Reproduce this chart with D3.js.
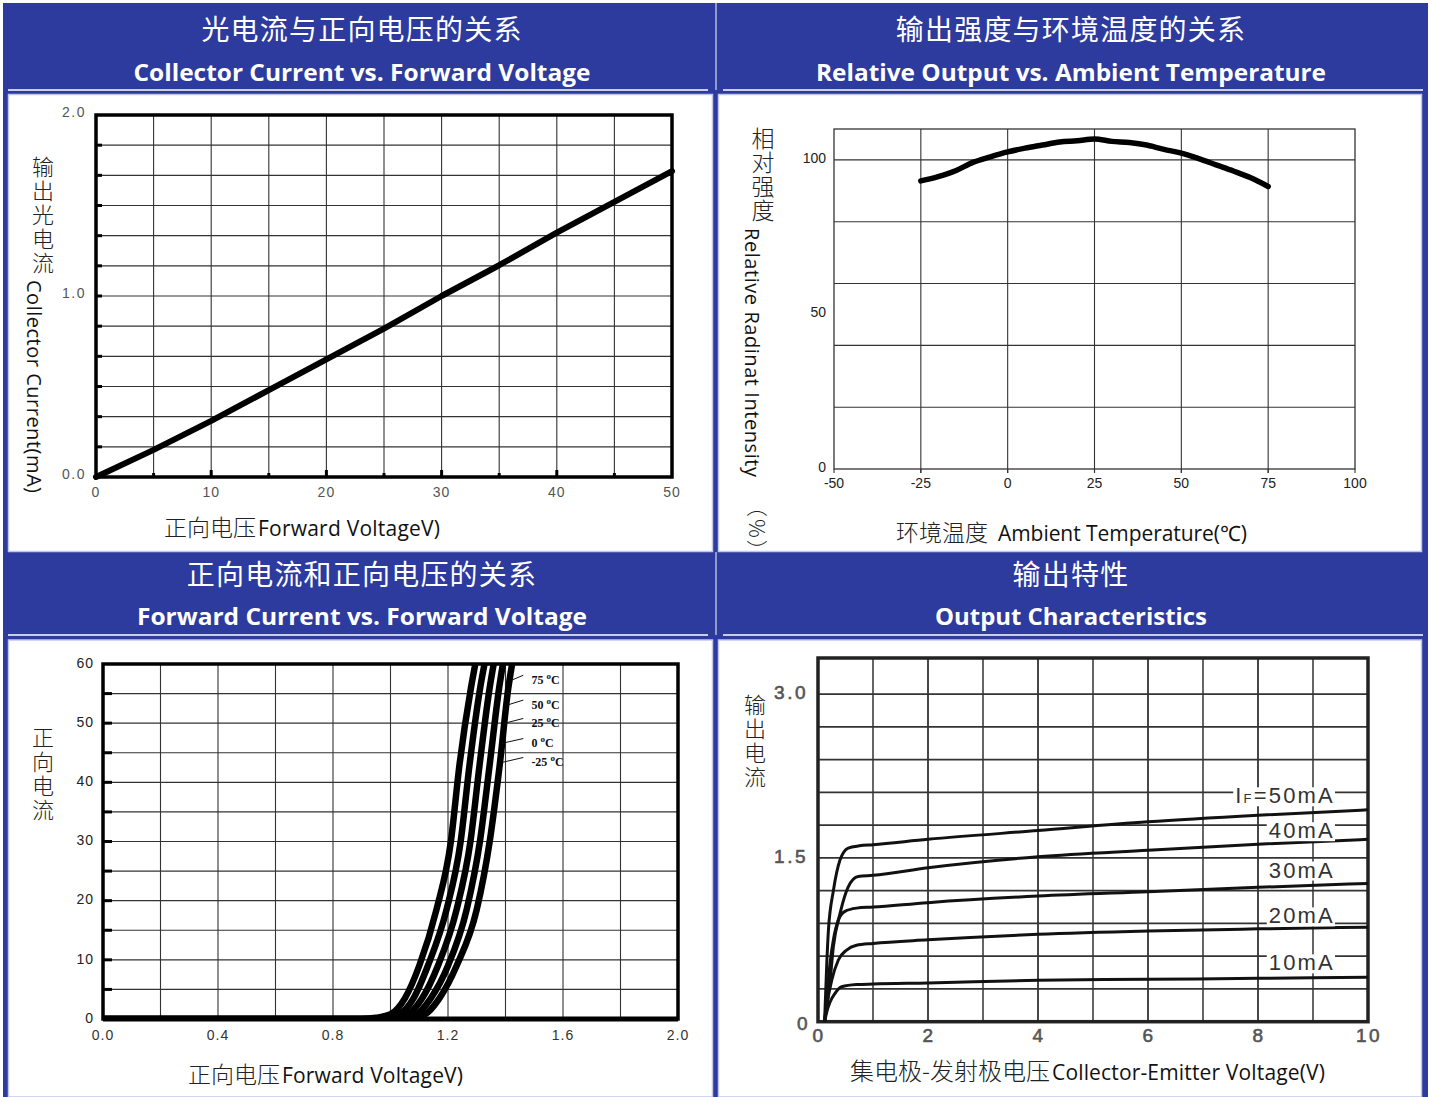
<!DOCTYPE html>
<html><head><meta charset="utf-8">
<script src="https://cdn.jsdelivr.net/npm/d3@7"></script>
<style>body{margin:0;background:#fff}svg{display:block}</style>
</head><body><svg id="c" width="1432" height="1097"></svg>
<script>
// ---------- DATA ----------
// Panel 1: Collector Current vs Forward Voltage
const ccVoltage = [0,5,10,15,20,25,30,35,40,45,50];
const ccCurrent = [0,0.15,0.31,0.48,0.65,0.82,1.0,1.17,1.35,1.52,1.69];
const ccYTicks = [0,1,2];
const ccXTicks = [0,10,20,30,40,50];

// Panel 2: Relative Output vs Ambient Temperature
const roTemp   = [-25,-20,-15,-10,-5,0,5,10,15,20,25,30,35,40,45,50,55,60,65,70,75];
const roOutput = [93.2,94.6,96.5,99.2,101.0,102.6,103.8,104.8,105.8,106.2,106.8,106.0,105.6,104.8,103.4,102.2,100.4,98.4,96.4,94.2,91.4];
const roXTicks = [-50,-25,0,25,50,75,100];
const roYTicks = [0,50,100];

// Panel 3: Forward Current vs Forward Voltage (per temperature)
const fcCurrent = [0,0,0.2,0.8,3.5,9,18.5,30,43,56,60];
const fcV75  = [0,0.90,0.95,1.00,1.05,1.10,1.160,1.210,1.240,1.280,1.295];
const fcV50  = [0,0.93,0.98,1.03,1.08,1.13,1.195,1.244,1.275,1.312,1.327];
const fcV25  = [0,0.96,1.01,1.06,1.11,1.165,1.230,1.278,1.310,1.345,1.359];
const fcV0   = [0,0.99,1.04,1.09,1.14,1.20,1.265,1.311,1.345,1.378,1.391];
const fcVm25 = [0,1.02,1.07,1.12,1.17,1.23,1.300,1.345,1.380,1.410,1.423];
const fcLabels = ["75","50","25","0","-25"];
const fcAnchorV = [1.423,1.409,1.398,1.388,1.391];
const fcAnchorI = [57.3,53.1,50.0,46.6,43.4];
const fcXTicks = [0,0.4,0.8,1.2,1.6,2.0];
const fcYTicks = [0,10,20,30,40,50,60];

// Panel 4: Output characteristics
const ocV50 = [0.12,0.16,0.19,0.28,0.40,0.55,0.75,1,2,4,6,8,10];
const ocI50 = [0,0.54,0.84,1.20,1.48,1.59,1.61,1.62,1.67,1.75,1.83,1.89,1.94];
const ocV40 = [0.12,0.18,0.22,0.28,0.40,0.55,0.73,1,2,4,6,8,10];
const ocI40 = [0,0.22,0.38,0.69,0.99,1.235,1.33,1.34,1.41,1.51,1.57,1.625,1.67];
const ocV30 = [0.12,0.17,0.22,0.28,0.37,0.49,0.7,1,2,4,6,8,10];
const ocI30 = [0,0.28,0.54,0.75,0.93,1.01,1.04,1.05,1.09,1.15,1.19,1.23,1.266];
const ocV20 = [0.12,0.17,0.25,0.37,0.52,0.7,1,2,4,6,8,10];
const ocI20 = [0,0.18,0.38,0.565,0.656,0.70,0.717,0.75,0.80,0.83,0.85,0.865];
const ocV10 = [0.12,0.16,0.22,0.31,0.43,0.7,1,2,4,6,8,10];
const ocI10 = [0,0.09,0.18,0.26,0.32,0.34,0.345,0.355,0.38,0.388,0.397,0.406];
const ocLabels = ["50mA","40mA","30mA","20mA","10mA"];
const ocLabelV = [9.4,9.4,9.4,9.4,9.4];
const ocLabelI = [2.0,1.68,1.32,0.90,0.47];
const ocXTicks = [0,2,4,6,8,10];
const ocYTicks = [0,1.5,3.0];

const headerZh = ["光电流与正向电压的关系","输出强度与环境温度的关系","正向电流和正向电压的关系","输出特性"];
const headerEn = ["Collector Current vs. Forward Voltage","Relative Output vs. Ambient Temperature","Forward Current vs. Forward Voltage","Output Characteristics"];

// ---------- STYLE / LAYOUT ----------
const BLUE = "#2d3a9e";
const CJK = "'Noto Sans CJK SC','Noto Sans',sans-serif";
const LAT = "'Open Sans','Noto Sans',sans-serif";
const ARIAL = "'Liberation Sans',Arial,sans-serif";
const svg = d3.select("#c");

svg.append("rect").attr("x",3).attr("y",3).attr("width",1425).attr("height",1094).attr("fill",BLUE);
const contents = [{x:8.5,y:94.5,w:704,h:457},{x:718.5,y:94.5,w:703,h:457},{x:8.5,y:640,w:704,h:457},{x:718.5,y:640,w:703,h:457}];
contents.forEach(c=>{
  svg.append("rect").attr("x",c.x).attr("y",c.y).attr("width",c.w).attr("height",c.h)
    .attr("fill","#fff").attr("stroke","#c3c7e6").attr("stroke-width",1.5);
});
[[3,90,713],[718,90,1428],[3,635,713],[718,635,1428]].forEach(([x1,y,x2])=>{
  svg.append("line").attr("x1",x1+5).attr("x2",x2-5).attr("y1",y).attr("y2",y).attr("stroke","#fff").attr("stroke-width",1.5);
});
[[3,90],[552,635]].forEach(([y1,y2])=>{
  svg.append("line").attr("x1",716).attr("x2",716).attr("y1",y1).attr("y2",y2).attr("stroke","#d6d9f0").attr("stroke-width",1.2);
});
const hdr = [{cx:362,y1:40,y2:81,w:457},{cx:1071,y1:40,y2:81,w:510},{cx:362,y1:585,y2:625,w:450},{cx:1071,y1:585,y2:625,w:272}];
hdr.forEach((h,i)=>{
  svg.append("text").attr("x",h.cx).attr("y",h.y1).attr("text-anchor","middle")
    .attr("font-family",CJK).attr("font-size",28).attr("letter-spacing",1.2).attr("fill","#fff").text(headerZh[i]);
  svg.append("text").attr("x",h.cx).attr("y",h.y2).attr("text-anchor","middle")
    .attr("font-family",LAT).attr("font-weight",700).attr("font-size",24).attr("fill","#fff")
    .attr("textLength",h.w).attr("lengthAdjust","spacingAndGlyphs").text(headerEn[i]);
});

function vertZh(chars, x, yTop, step, size){
  svg.append("text").attr("x",x).attr("y",yTop)
    .style("writing-mode","vertical-rl").style("text-orientation","upright")
    .attr("font-family",CJK).attr("font-weight",300).attr("font-size",size)
    .attr("letter-spacing",step-size).attr("fill","#222").text(chars);
}
function rotEn(str, x, y, size, len){
  const t = svg.append("text").attr("transform",`translate(${x},${y}) rotate(90)`)
    .attr("font-family",LAT).attr("font-size",size).attr("fill","#111").text(str);
  if(len) t.attr("textLength",len);
  return t;
}
function xLabel(zh, en, x0, x1, x2, y, zsize, esize){
  svg.append("text").attr("x",x0).attr("y",y).attr("font-family",CJK).attr("font-weight",300)
    .attr("font-size",zsize).attr("fill","#222").text(zh);
  svg.append("text").attr("x",x1).attr("y",y).attr("font-family",LAT)
    .attr("font-size",esize).attr("fill","#111").attr("textLength",x2-x1).text(en);
}
function tickText(g, x, y, str, opts){
  const t = g.append("text").attr("x",x).attr("y",y).attr("font-family",opts.family||ARIAL)
    .attr("font-size",opts.size||14).attr("fill",opts.fill||"#444")
    .attr("text-anchor",opts.anchor||"middle").text(str);
  if(opts.ls) t.attr("letter-spacing",opts.ls);
  if(opts.weight) t.attr("font-weight",opts.weight);
  if(opts.db) t.attr("dominant-baseline",opts.db);
  if(opts.stroke) t.attr("stroke",opts.fill||"#444").attr("stroke-width",opts.stroke);
  return t;
}

// ---------- PANEL 1 ----------
{
  const x = d3.scaleLinear().domain([0,50]).range([96,672]);
  const y = d3.scaleLinear().domain([0,2]).range([477,115]);
  const g = svg.append("g");
  const yGrid = d3.range(1,12).map(i=>i*2/12);
  const xGrid = x.ticks(10).filter(v=>v>0&&v<50);
  g.selectAll(".vg").data(xGrid).join("line").attr("x1",d=>x(d)).attr("x2",d=>x(d))
    .attr("y1",y(2)).attr("y2",y(0)).attr("stroke","#333").attr("stroke-width",1.1);
  g.selectAll(".hg").data(yGrid).join("line").attr("x1",x(0)).attr("x2",x(50))
    .attr("y1",d=>y(d)).attr("y2",d=>y(d)).attr("stroke","#333").attr("stroke-width",1.1);
  g.selectAll(".lt").data(yGrid).join("line").attr("x1",x(0)).attr("x2",x(0)+6)
    .attr("y1",d=>y(d)).attr("y2",d=>y(d)).attr("stroke","#000").attr("stroke-width",3);
  g.selectAll(".bt").data(xGrid).join("line").attr("x1",d=>x(d)).attr("x2",d=>x(d))
    .attr("y1",y(0)).attr("y2",d=>y(0)-(d%10===0?7:4)).attr("stroke","#000").attr("stroke-width",3);
  g.append("rect").attr("x",x(0)).attr("y",y(2)).attr("width",x(50)-x(0)).attr("height",y(0)-y(2))
    .attr("fill","none").attr("stroke","#000").attr("stroke-width",3.5);
  ccYTicks.forEach(v=>tickText(g,86,y(v)-2,v.toFixed(1),{anchor:"end",db:"middle",ls:1.5,size:14,fill:"#555"}));
  ccXTicks.forEach(v=>tickText(g,x(v),497,String(v),{ls:1,size:14,fill:"#555"}));
  g.append("path").datum(ccVoltage.map((v,i)=>[v,ccCurrent[i]]))
    .attr("d",d3.line().x(d=>x(d[0])).y(d=>y(d[1])))
    .attr("fill","none").attr("stroke","#000").attr("stroke-width",6).attr("stroke-linejoin","round").attr("stroke-linecap","round");
  vertZh("输出光电流",43,156,24,22);
  rotEn("Collector Current(mA)",27,280,20,213);
  xLabel("正向电压","Forward VoltageV)",164,258,440,536,23,21);
}

// ---------- PANEL 2 ----------
{
  const x = d3.scaleLinear().domain([-50,100]).range([834,1355]);
  const y = d3.scaleLinear().domain([0,110]).range([469,129]);
  const g = svg.append("g");
  const xGrid = [-25,0,25,50,75];
  const yGrid = y.ticks(5).filter(v=>v>0&&v<=100);
  g.selectAll(".vg").data(xGrid).join("line").attr("x1",d=>x(d)).attr("x2",d=>x(d))
    .attr("y1",y(110)).attr("y2",y(0)+4).attr("stroke","#333").attr("stroke-width",1.1);
  g.selectAll(".hg").data(yGrid).join("line").attr("x1",x(-50)).attr("x2",x(100))
    .attr("y1",d=>y(d)).attr("y2",d=>y(d)).attr("stroke","#333").attr("stroke-width",1.1);
  g.append("rect").attr("x",x(-50)).attr("y",y(110)).attr("width",x(100)-x(-50)).attr("height",y(0)-y(110))
    .attr("fill","none").attr("stroke","#333").attr("stroke-width",1.3);
  g.selectAll(".xt").data(roXTicks).join("line").attr("x1",d=>x(d)).attr("x2",d=>x(d))
    .attr("y1",y(0)).attr("y2",y(0)+4).attr("stroke","#333").attr("stroke-width",1.1);
  roYTicks.forEach(v=>tickText(g,826,y(v)-1,String(v),{anchor:"end",db:"middle",size:14,fill:"#222"}));
  roXTicks.forEach(v=>tickText(g,x(v),488,String(v),{size:14,fill:"#222"}));
  g.append("path").datum(roTemp.map((v,i)=>[v,roOutput[i]]))
    .attr("d",d3.line().x(d=>x(d[0])).y(d=>y(d[1])).curve(d3.curveMonotoneX))
    .attr("fill","none").attr("stroke","#000").attr("stroke-width",5.5).attr("stroke-linecap","round");
  vertZh("相对强度",763,127,24,23);
  rotEn("Relative Radinat Intensity",745,228,20,249);
  svg.append("text").attr("transform","translate(749,496) rotate(90)").attr("font-family",CJK)
    .attr("font-weight",300).attr("font-size",21).attr("letter-spacing",2).attr("fill","#222").text("（%）");
  xLabel("环境温度","Ambient Temperature(℃)",896,998,1247,541,23,21);
}

// ---------- PANEL 3 ----------
{
  const x = d3.scaleLinear().domain([0,2]).range([103,678]);
  const y = d3.scaleLinear().domain([0,60]).range([1019,664]);
  const g = svg.append("g");
  const xGrid = d3.range(1,10).map(i=>i*0.2);
  const yGrid = d3.range(5,60,5);
  g.selectAll(".vg").data(xGrid).join("line").attr("x1",d=>x(d)).attr("x2",d=>x(d))
    .attr("y1",y(60)).attr("y2",y(0)).attr("stroke","#333").attr("stroke-width",1.1);
  g.selectAll(".hg").data(yGrid).join("line").attr("x1",x(0)).attr("x2",x(2))
    .attr("y1",d=>y(d)).attr("y2",d=>y(d)).attr("stroke","#333").attr("stroke-width",1.1);
  g.selectAll(".lt").data(yGrid).join("line").attr("x1",x(0)).attr("x2",x(0)+9)
    .attr("y1",d=>y(d)).attr("y2",d=>y(d)).attr("stroke","#000").attr("stroke-width",3);
  g.append("rect").attr("x",x(0)).attr("y",y(60)).attr("width",x(2)-x(0)).attr("height",y(0)-y(60))
    .attr("fill","none").attr("stroke","#000").attr("stroke-width",3.5);
  g.append("line").attr("x1",x(0)).attr("x2",x(2)).attr("y1",y(0)).attr("y2",y(0)).attr("stroke","#000").attr("stroke-width",5);
  fcYTicks.forEach(v=>tickText(g,94,y(v),String(v),{anchor:"end",db:"middle",size:14,ls:1,fill:"#222"}));
  fcXTicks.forEach(v=>tickText(g,x(v),1040,v.toFixed(1),{size:14,ls:1,fill:"#333"}));
  svg.append("clipPath").attr("id","c3").append("rect")
    .attr("x",x(0)).attr("y",y(60)).attr("width",x(2)-x(0)).attr("height",y(0)-y(60));
  const line = d3.line().x(d=>x(d[0])).y(d=>y(d[1])).curve(d3.curveMonotoneX);
  [fcV75,fcV50,fcV25,fcV0,fcVm25].forEach(vs=>{
    g.append("path").datum(vs.map((v,i)=>[v,fcCurrent[i]])).attr("d",line)
      .attr("clip-path","url(#c3)")
      .attr("fill","none").attr("stroke","#000").attr("stroke-width",6.5).attr("stroke-linejoin","round");
  });
  fcLabels.forEach((lab,i)=>{
    g.append("line").attr("x1",x(fcAnchorV[i])).attr("y1",y(fcAnchorI[i]))
      .attr("x2",x(1.462)).attr("y2",y(fcAnchorI[i]+0.8)).attr("stroke","#111").attr("stroke-width",1);
    const t = g.append("text").attr("x",x(1.49)).attr("y",y(fcAnchorI[i])+4)
      .attr("font-family","'Liberation Serif',serif").attr("font-weight",700).attr("font-size",12).attr("fill","#111");
    t.append("tspan").text(lab+" ");
    t.append("tspan").attr("dy",-5).attr("font-size",9).text("o");
    t.append("tspan").attr("dy",5).text("C");
  });
  vertZh("正向电流",43,727,24,22);
  xLabel("正向电压","Forward VoltageV)",188,282,463,1083,23,21);
}

// ---------- PANEL 4 ----------
{
  const x = d3.scaleLinear().domain([0,10]).range([818,1368]);
  const y = d3.scaleLinear().domain([0,3.33]).range([1021.7,658]);
  const g = svg.append("g");
  const xGrid = d3.range(1,10);
  const yGrid = d3.range(1,11).map(i=>i*0.3);
  g.selectAll(".vg").data(xGrid).join("line").attr("x1",d=>x(d)).attr("x2",d=>x(d))
    .attr("y1",y(3.33)).attr("y2",y(0)).attr("stroke",d=>d%2?"#555":"#333").attr("stroke-width",1.8);
  g.selectAll(".hg").data(yGrid).join("line").attr("x1",x(0)).attr("x2",x(10))
    .attr("y1",d=>y(d)).attr("y2",d=>y(d)).attr("stroke","#333").attr("stroke-width",1.8);
  g.append("rect").attr("x",x(0)).attr("y",y(3.33)).attr("width",x(10)-x(0)).attr("height",y(0)-y(3.33))
    .attr("fill","none").attr("stroke","#222").attr("stroke-width",3.5);
  const line = d3.line().x(d=>x(d[0])).y(d=>y(d[1])).curve(d3.curveMonotoneX);
  [[ocV50,ocI50],[ocV40,ocI40],[ocV30,ocI30],[ocV20,ocI20],[ocV10,ocI10]].forEach(([vs,is])=>{
    g.append("path").datum(vs.map((v,i)=>[v,is[i]])).attr("d",line)
      .attr("fill","none").attr("stroke","#111").attr("stroke-width",3).attr("stroke-linejoin","round");
  });
  ocLabels.forEach((lab,i)=>{
    const lg = g.append("g");
    const t = lg.append("text").attr("x",x(ocLabelV[i])).attr("y",y(ocLabelI[i]))
      .attr("text-anchor","end").attr("font-family",ARIAL).attr("font-size",22).attr("fill","#333").attr("letter-spacing",2.2);
    if(i===0){
      t.append("tspan").text("I");
      t.append("tspan").attr("font-size",13).text("F");
      t.append("tspan").text("=50mA");
    } else t.text(lab);
    const bb = t.node().getBBox();
    lg.insert("rect","text").attr("x",bb.x-2).attr("y",bb.y+4).attr("width",bb.width+2).attr("height",bb.height-6).attr("fill","#fff");
  });
  ocYTicks.forEach(v=>tickText(g,v===0?810:808,v===0?1025:y(v),v===0?"0":v.toFixed(1),{anchor:"end",db:"middle",size:19,ls:2.5,fill:"#555",stroke:0.6}));
  ocXTicks.forEach(v=>tickText(g,x(v)+1,1042,String(v),{size:19,ls:2.5,fill:"#555",stroke:0.6}));
  vertZh("输出电流",755,694,24,22);
  xLabel("集电极-发射极电压","Collector-Emitter Voltage(V)",850,1052,1325,1080,24,21);
}
</script></body></html>
